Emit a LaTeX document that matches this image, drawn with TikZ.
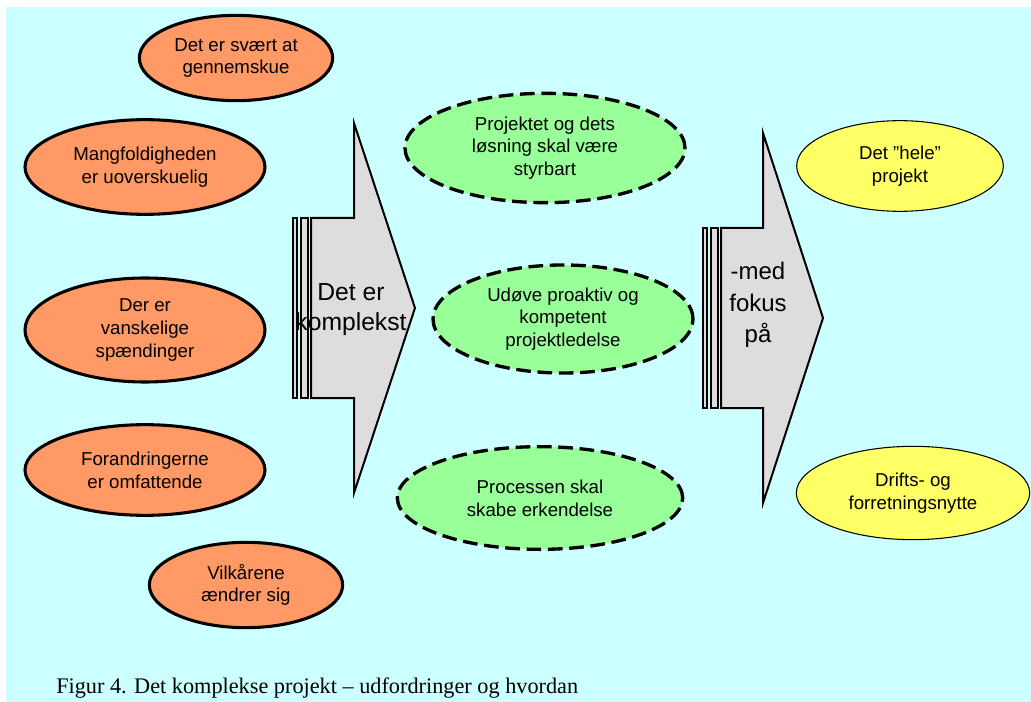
\documentclass[tikz,border=0pt]{standalone}
\usepackage{fontspec}
\setmainfont{Liberation Sans}
\newfontfamily\capfont{Liberation Serif}
\usetikzlibrary{shapes.geometric, positioning}
\definecolor{bgcyan}{HTML}{CCFFFF}
\definecolor{orangefill}{HTML}{FF9966}
\definecolor{greenfill}{HTML}{99FF99}
\definecolor{yellowfill}{HTML}{FFFF66}
\definecolor{arrowgray}{HTML}{DDDDDD}

\begin{document}
\begin{tikzpicture}[x=0.75pt, y=-0.75pt,
  problem/.style={shape=ellipse, draw=black, line width=2.3pt, fill=orangefill, align=center, inner sep=0pt, font=\fontsize{14}{17}\selectfont},
  goal/.style={shape=ellipse, draw=black, line width=2.5pt, dash pattern=on 11pt off 5pt, fill=greenfill, align=center, inner sep=0pt, font=\fontsize{14}{17}\selectfont},
  focus/.style={shape=ellipse, draw=black, line width=0.8pt, fill=yellowfill, align=center, inner sep=0pt, font=\fontsize{14}{17}\selectfont},
  blockarrow/.style={draw=black, line width=1.5pt, fill=arrowgray, line join=miter},
  arrowtext/.style={align=center, inner sep=0pt, font=\fontsize{18.5}{22.5}\selectfont}]
\useasboundingbox (0,0) rectangle (1031,702);
\fill[bgcyan] (6,7) rectangle (1031,702);

% block arrows
\foreach \sx/\sy/\hx/\tx/\ty/\bx/\by in {293/218/354/415/308/311/398, 703/228/763/823/318/721/408}{
	\draw[blockarrow] (\sx,\sy) rectangle (\sx+4,\by);
	\draw[blockarrow] (\sx+8,\sy) rectangle (\sx+15,\by);
	\draw[blockarrow] (\bx,\sy) -- (\hx,\sy) -- (\hx,\ty-185) -- (\tx,\ty) -- (\hx,\ty+185) -- (\hx,\by) -- (\bx,\by) -- cycle;
}
\node[arrowtext] (complex) at (351,310) {Det er\\komplekst};
\node[arrowtext, font=\fontsize{18}{23.5}\selectfont] (withfocus) at (758,305) {-med\\fokus\\på};

% challenges
\node[problem, minimum width=145pt, minimum height=64pt] (p1) at (236,58) {Det er svært at\\gennemskue};
\node[problem, minimum width=180pt, minimum height=71pt] (p2) at (145,167) {Mangfoldigheden\\er uoverskuelig};
\node[problem, minimum width=180pt, minimum height=78pt] (p3) at (145,330) {Der er\\vanskelige\\spændinger};
\node[problem, minimum width=180pt, minimum height=68pt] (p4) at (145,470) {Forandringerne\\er omfattende};
\node[problem, minimum width=145pt, minimum height=64pt] (p5) at (246,585) {Vilkårene\\ændrer sig};

% how
\node[goal, minimum width=210pt, minimum height=82pt] (g1) at (545,148) {Projektet og dets\\løsning skal være\\styrbart};
\node[goal, minimum width=195pt, minimum height=81pt] (g2) at (563,319) {Udøve proaktiv og\\kompetent\\projektledelse};
\node[goal, minimum width=214pt, minimum height=77pt] (g3) at (540,498) {Processen skal\\skabe erkendelse};

% focus
\node[focus, minimum width=155pt, minimum height=68pt] (f1) at (900,166) {Det ”hele”\\projekt};
\node[focus, minimum width=175pt, minimum height=70pt] (f2) at (913,493) {Drifts- og\\forretningsnytte};

\node[anchor=base west, inner sep=0pt, font=\capfont\fontsize{16.7}{20}\selectfont] (caption) at (56,693) {Figur 4. Det komplekse projekt – udfordringer og hvordan};
\end{tikzpicture}
\end{document}
